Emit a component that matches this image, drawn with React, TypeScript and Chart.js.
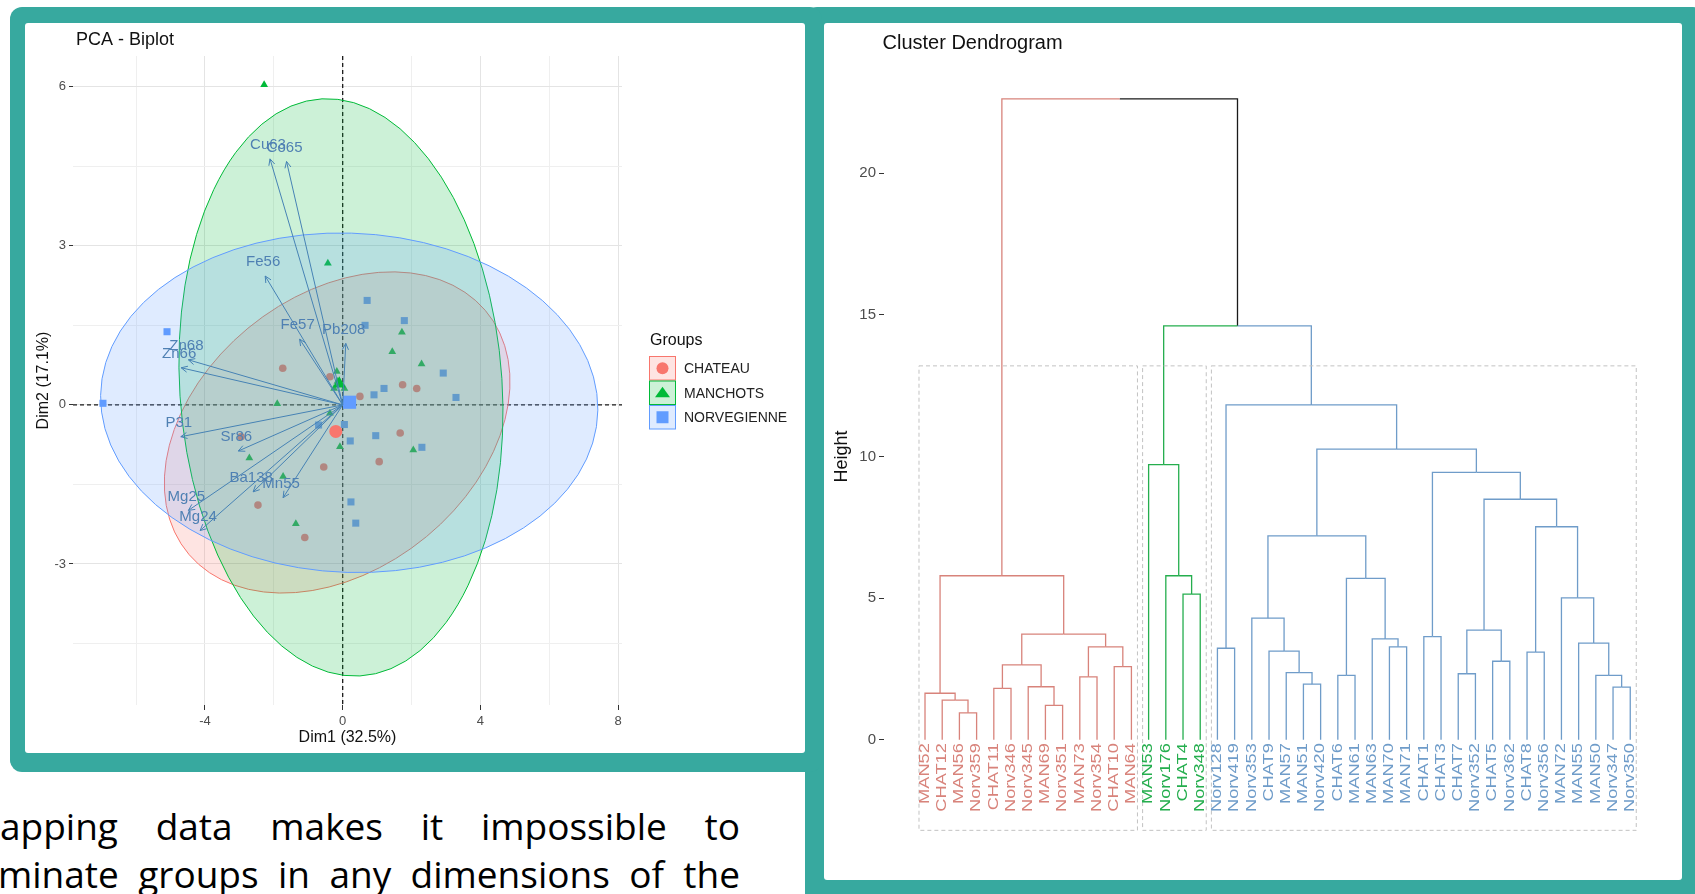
import React, { useEffect, useRef } from "react";
import { Chart, registerables } from "chart.js";

Chart.register(...registerables);

const FONT = "'Liberation Sans', Arial, Helvetica, sans-serif";
const TEAL = "#37a99f";

/* ---------------- PCA biplot data ---------------- */
const groups = ["CHATEAU", "MANCHOTS", "NORVEGIENNE"];
const groupColors = ["#F8766D", "#00BA38", "#619CFF"];
const groupShapes = ["circle", "triangle", "rect"];

const chateauX = [-1.74, -0.37, 0.5, 1.74, 2.15, 1.67, 1.06, -0.55, -2.95, -2.46, -1.1];
const chateauY = [0.69, 0.53, 0.16, 0.38, 0.31, -0.53, -1.07, -1.17, -0.6, -1.89, -2.5];
const manchotsX = [-2.28, -0.43, 1.72, 1.44, 2.29, -0.17, -0.15, -0.25, 0.05, -1.9, -0.37, -0.08, 2.05, -2.71, -1.73, -1.36];
const manchotsY = [6.04, 2.67, 1.37, 1.0, 0.77, 0.63, 0.44, 0.31, 0.31, 0.02, -0.16, -0.79, -0.85, -1.0, -1.35, -2.24];
const norvX = [0.71, 1.79, 0.65, 2.92, 1.2, 0.91, 3.29, -5.1, -6.96, -0.7, 0.05, 0.96, 0.22, 2.3, 0.24, 0.38];
const norvY = [1.97, 1.59, 1.5, 0.6, 0.31, 0.19, 0.14, 1.38, 0.03, -0.38, -0.37, -0.58, -0.68, -0.8, -1.83, -2.23];

const meanX = [-0.2, -0.1, 0.2];
const meanY = [-0.5, 0.4, 0.05];

// concentration ellipses: centre, semi-axes, rotation (degrees)
const ellCx = [-0.16, -0.05, 0.19];
const ellCy = [-0.52, 0.33, 0.04];
const ellA = [5.15, 5.5, 7.22];
const ellB = [2.8, 4.64, 3.2];
const ellAngle = [15.5, 105.3, -1.1];

const varNames = ["Cu63", "Co65", "Fe56", "Fe57", "Pb208", "Zn68", "Zn66", "P31", "Sr86", "Ba138", "Mn55", "Mg25", "Mg24"];
const varX = [-2.11, -1.63, -2.25, -1.25, 0.09, -4.48, -4.69, -4.7, -3.03, -2.6, -1.73, -4.48, -4.14];
const varY = [4.64, 4.59, 2.43, 1.24, 1.16, 0.85, 0.7, -0.6, -0.87, -1.64, -1.75, -1.99, -2.37];

const xMajor = [-4, 0, 4, 8];
const xMinor = [-6, -2, 2, 6];
const yMajor = [-3, 0, 3, 6];
const yMinor = [-4.5, -1.5, 1.5, 4.5];

/* ---------------- Dendrogram data ---------------- */
const leafLabels = [
  "MAN52", "CHAT12", "MAN56", "Norv359", "CHAT11", "Norv346", "Norv345", "MAN69", "Norv351", "MAN73", "Norv354", "CHAT10", "MAN64",
  "MAN53", "Norv176", "CHAT4", "Norv348",
  "Norv128", "Norv419", "Norv353", "CHAT9", "MAN57", "MAN51", "Norv420", "CHAT6", "MAN61", "MAN63", "MAN70", "MAN71",
  "CHAT1", "CHAT3", "CHAT7", "Norv352", "CHAT5", "Norv362", "CHAT8", "Norv356", "MAN72", "MAN55", "MAN50", "Norv347", "Norv350",
];
const leafCluster = [
  0, 0, 0, 0, 0, 0, 0, 0, 0, 0, 0, 0, 0,
  1, 1, 1, 1,
  2, 2, 2, 2, 2, 2, 2, 2, 2, 2, 2, 2, 2, 2, 2, 2, 2, 2, 2, 2, 2, 2, 2, 2, 2,
];
const clusterColors = ["#D8837B", "#25AE4E", "#6F9CC9"];
const mixedColor = "#1a1a1a";

// hclust-style merges: negative = leaf (display position), positive = earlier merge
const merges: [number, number, number][] = [
  [-3, -4, 0.95], [-2, 1, 1.4], [-1, 2, 1.64], [-5, -6, 1.81], [-8, -9, 1.21],
  [-7, 5, 1.87], [4, 6, 2.64], [-10, -11, 2.22], [-12, -13, 2.58], [8, 9, 3.28],
  [7, 10, 3.73], [3, 11, 5.79],
  [-16, -17, 5.14], [-15, 13, 5.79], [-14, 14, 9.71],
  [-18, -19, 3.23], [-23, -24, 1.96], [-22, 17, 2.37], [-21, 18, 3.13], [-20, 19, 4.29],
  [-25, -26, 2.27], [-28, -29, 3.28], [-27, 22, 3.56], [21, 23, 5.7], [20, 24, 7.2],
  [-30, -31, 3.64], [-32, -33, 2.33], [-34, -35, 2.77], [27, 28, 3.87], [-36, -37, 3.09],
  [-41, -42, 1.86], [-40, 31, 2.27], [-39, 32, 3.41], [-38, 33, 5.01], [30, 34, 7.52],
  [29, 35, 8.49], [26, 36, 9.44], [25, 37, 10.26], [16, 38, 11.82],
  [15, 39, 14.61], [12, 40, 22.63],
];
const heightTicks = [0, 5, 10, 15, 20];
const rectTop = 13.2;
const rectBottom = -3.2;

/* ---------------- helpers ---------------- */
function rgba(hex: string, a: number) {
  const n = parseInt(hex.slice(1), 16);
  return `rgba(${(n >> 16) & 255},${(n >> 8) & 255},${n & 255},${a})`;
}

function drawMarker(ctx: CanvasRenderingContext2D, shape: string, cx: number, cy: number, s: number, color: string) {
  ctx.fillStyle = color;
  ctx.beginPath();
  if (shape === "circle") {
    ctx.arc(cx, cy, s, 0, Math.PI * 2);
  } else if (shape === "triangle") {
    const h = s * 1.5;
    ctx.moveTo(cx, cy - h * 0.62);
    ctx.lineTo(cx + s * 1.15, cy + h * 0.45);
    ctx.lineTo(cx - s * 1.15, cy + h * 0.45);
    ctx.closePath();
  } else {
    ctx.rect(cx - s, cy - s, 2 * s, 2 * s);
  }
  ctx.fill();
}

/* ---------------- PCA chart ---------------- */
const pcaPlugin = {
  id: "pcaExtras",
  beforeDatasetsDraw(chart: any) {
    chart.$ellDone = false;
    const { ctx, chartArea, scales } = chart;
    const x0 = scales.x.getPixelForValue(0);
    const y0 = scales.y.getPixelForValue(0);
    ctx.save();
    ctx.strokeStyle = "#1a1a1a";
    ctx.lineWidth = 1.3;
    ctx.setLineDash([4, 3]);
    ctx.beginPath();
    ctx.moveTo(chartArea.left, y0);
    ctx.lineTo(chartArea.right, y0);
    ctx.moveTo(x0, chartArea.top);
    ctx.lineTo(x0, chartArea.bottom);
    ctx.stroke();
    ctx.restore();
  },
  beforeDatasetDraw(chart: any, args: any) {
    if (args.index < 3 || chart.$ellDone) return;
    chart.$ellDone = true;
    const { ctx, scales } = chart;
    const xs = scales.x, ys = scales.y;
    const kx = xs.getPixelForValue(1) - xs.getPixelForValue(0);
    const ky = ys.getPixelForValue(1) - ys.getPixelForValue(0);
    for (let g = 0; g < groups.length; g++) {
      const t = (ellAngle[g] * Math.PI) / 180;
      const a = ellA[g], b = ellB[g];
      ctx.save();
      ctx.beginPath();
      ctx.transform(
        kx * a * Math.cos(t), ky * a * Math.sin(t),
        -kx * b * Math.sin(t), ky * b * Math.cos(t),
        xs.getPixelForValue(ellCx[g]), ys.getPixelForValue(ellCy[g])
      );
      ctx.arc(0, 0, 1, 0, Math.PI * 2);
      ctx.restore();
      ctx.save();
      ctx.fillStyle = rgba(groupColors[g], 0.2);
      ctx.fill();
      ctx.strokeStyle = groupColors[g];
      ctx.lineWidth = 1;
      ctx.stroke();
      ctx.restore();
    }
  },
  afterDatasetsDraw(chart: any) {
    const { ctx, scales } = chart;
    const ox = scales.x.getPixelForValue(0);
    const oy = scales.y.getPixelForValue(0);
    ctx.save();
    ctx.strokeStyle = "#4682B4";
    ctx.lineWidth = 1;
    for (let i = 0; i < varNames.length; i++) {
      const tx = scales.x.getPixelForValue(varX[i]);
      const ty = scales.y.getPixelForValue(varY[i]);
      const ang = Math.atan2(ty - oy, tx - ox);
      ctx.beginPath();
      ctx.moveTo(ox, oy);
      ctx.lineTo(tx, ty);
      ctx.moveTo(tx - 7 * Math.cos(ang - 0.45), ty - 7 * Math.sin(ang - 0.45));
      ctx.lineTo(tx, ty);
      ctx.lineTo(tx - 7 * Math.cos(ang + 0.45), ty - 7 * Math.sin(ang + 0.45));
      ctx.stroke();
    }
    ctx.fillStyle = "#4f80b3";
    ctx.font = `15px ${FONT}`;
    ctx.textAlign = "center";
    ctx.textBaseline = "middle";
    for (let i = 0; i < varNames.length; i++) {
      const tx = scales.x.getPixelForValue(varX[i]);
      const ty = scales.y.getPixelForValue(varY[i]);
      ctx.fillText(varNames[i], tx - 2, ty - 14);
    }
    ctx.restore();
  },
  afterDraw(chart: any) {
    const { ctx } = chart;
    ctx.save();
    ctx.fillStyle = "#111";
    ctx.textBaseline = "middle";
    ctx.textAlign = "left";
    ctx.font = `18px ${FONT}`;
    ctx.fillText("PCA - Biplot", 51, 17);
    ctx.font = `16px ${FONT}`;
    ctx.fillText("Groups", 625, 318);
    const rowTop = [333.5, 358, 382.5];
    for (let g = 0; g < groups.length; g++) {
      const top = rowTop[g];
      ctx.fillStyle = rgba(groupColors[g], 0.2);
      ctx.fillRect(624.5, top, 26, 23.5);
      ctx.strokeStyle = groupColors[g];
      ctx.lineWidth = 1;
      ctx.strokeRect(624.5, top, 26, 23.5);
      const cy = top + 11.75;
      const size = g === 0 ? 6 : g === 1 ? 6.5 : 6;
      drawMarker(ctx, groupShapes[g], 637.5, cy, size, groupColors[g]);
      ctx.fillStyle = "#222";
      ctx.font = `14px ${FONT}`;
      ctx.fillText(groups[g], 659, cy + 1);
    }
    ctx.restore();
  },
};

function PcaChart() {
  const ref = useRef<HTMLCanvasElement>(null);
  useEffect(() => {
    const xsAll = [chateauX, manchotsX, norvX];
    const ysAll = [chateauY, manchotsY, norvY];
    const indivRadius = [3.8, 4.5, 5];
    const meanRadius = [6.5, 7.5, 9.3];
    const datasets: any[] = [];
    groups.forEach((g, gi) => {
      datasets.push({
        label: g,
        data: xsAll[gi].map((v, i) => ({ x: v, y: ysAll[gi][i] })),
        pointStyle: groupShapes[gi],
        pointRadius: indivRadius[gi],
        pointBackgroundColor: groupColors[gi],
        pointBorderWidth: 0,
        pointBorderColor: "rgba(0,0,0,0)",
        order: 10,
      });
    });
    groups.forEach((g, gi) => {
      datasets.push({
        label: g + " mean",
        data: [{ x: meanX[gi], y: meanY[gi] }],
        pointStyle: groupShapes[gi],
        pointRadius: meanRadius[gi],
        pointBackgroundColor: groupColors[gi],
        pointBorderWidth: 0,
        pointBorderColor: "rgba(0,0,0,0)",
        order: 1,
      });
    });
    const gridColor = (isMajor: boolean) => (isMajor ? "#e4e4e4" : "#efefef");
    const chart = new Chart(ref.current!, {
      type: "scatter",
      data: { datasets },
      plugins: [pcaPlugin],
      options: {
        animation: false,
        responsive: false,
        events: [],
        layout: { padding: { left: 0, right: 183, top: 33, bottom: 0 } },
        plugins: { legend: { display: false }, tooltip: { enabled: false }, title: { display: false } },
        scales: {
          x: {
            type: "linear",
            min: -7.83,
            max: 8.11,
            afterBuildTicks: (s: any) => {
              s.ticks = [...xMinor, ...xMajor].sort((a, b) => a - b).map((v) => ({ value: v }));
            },
            afterFit: (s: any) => {
              s.height = 48;
            },
            border: { display: false },
            grid: {
              color: (c: any) => gridColor(xMajor.includes(c.tick?.value)),
              lineWidth: 1,
              drawTicks: true,
              tickLength: 5,
              tickColor: (c: any) => (xMajor.includes(c.tick?.value) ? "#333" : "rgba(0,0,0,0)"),
            },
            ticks: {
              autoSkip: false,
              maxRotation: 0,
              padding: 4,
              color: "#4d4d4d",
              font: { family: FONT, size: 13 },
              callback: (v: any) => (xMajor.includes(v) ? String(v) : ""),
            },
            title: {
              display: true,
              text: "Dim1 (32.5%)",
              color: "#111",
              font: { family: FONT, size: 16 },
              padding: { top: 0, bottom: 5.4 },
            },
          },
          y: {
            type: "linear",
            min: -5.66,
            max: 6.58,
            afterBuildTicks: (s: any) => {
              s.ticks = [...yMinor, ...yMajor].sort((a, b) => a - b).map((v) => ({ value: v }));
            },
            afterFit: (s: any) => {
              s.width = 48;
            },
            border: { display: false },
            grid: {
              color: (c: any) => gridColor(yMajor.includes(c.tick?.value)),
              lineWidth: 1,
              drawTicks: true,
              tickLength: 4,
              tickColor: (c: any) => (yMajor.includes(c.tick?.value) ? "#333" : "rgba(0,0,0,0)"),
            },
            ticks: {
              autoSkip: false,
              padding: 3,
              color: "#4d4d4d",
              font: { family: FONT, size: 13 },
              callback: (v: any) => (yMajor.includes(v) ? String(v) : ""),
            },
            title: {
              display: true,
              text: "Dim2 (17.1%)",
              color: "#111",
              font: { family: FONT, size: 16 },
              padding: { top: 9.4, bottom: 0 },
            },
          },
        },
      } as any,
    });
    return () => chart.destroy();
  }, []);
  return (
    <canvas
      ref={ref}
      width={780}
      height={730}
      style={{ position: "absolute", left: 25, top: 23, width: 780, height: 730, display: "block" }}
    />
  );
}

/* ---------------- Dendrogram chart ---------------- */
function buildDendro() {
  const nodeX: number[] = [];
  const nodeCl: number[] = [];
  const info = (r: number) => {
    if (r < 0) return { x: -r, h: 0, cl: leafCluster[-r - 1] };
    return { x: nodeX[r - 1], h: merges[r - 1][2], cl: nodeCl[r - 1] };
  };
  const datasets: any[] = [];
  merges.forEach(([a, b, h], i) => {
    const A = info(a);
    const B = info(b);
    nodeX[i] = (A.x + B.x) / 2;
    nodeCl[i] = A.cl === B.cl ? A.cl : -1;
    [A, B].forEach((c) => {
      datasets.push({
        data: [
          { x: nodeX[i], y: h },
          { x: c.x, y: h },
          { x: c.x, y: c.h },
        ],
        showLine: true,
        pointRadius: 0,
        borderWidth: 1.3,
        borderColor: c.cl >= 0 ? clusterColors[c.cl] : mixedColor,
        fill: false,
        tension: 0,
      });
    });
  });
  return datasets;
}

const dendroPlugin = {
  id: "dendroExtras",
  afterDatasetsDraw(chart: any) {
    const { ctx, scales } = chart;
    const xs = scales.x, ys = scales.y;
    ctx.save();
    // cluster rectangles
    ctx.setLineDash([4, 3]);
    ctx.strokeStyle = "#c2c2c2";
    ctx.lineWidth = 1;
    for (let c = 0; c < clusterColors.length; c++) {
      const first = leafCluster.indexOf(c) + 1;
      const last = leafCluster.lastIndexOf(c) + 1;
      const x1 = xs.getPixelForValue(first - 0.35);
      const x2 = xs.getPixelForValue(last + 0.35);
      const y1 = ys.getPixelForValue(rectTop);
      const y2 = ys.getPixelForValue(rectBottom);
      ctx.strokeRect(x1, y1, x2 - x1, y2 - y1);
    }
    ctx.setLineDash([]);
    // leaf labels
    const y0 = ys.getPixelForValue(0) + 3.5;
    ctx.font = `14px ${FONT}`;
    ctx.textAlign = "right";
    ctx.textBaseline = "middle";
    leafLabels.forEach((lab, i) => {
      const px = xs.getPixelForValue(i + 1);
      ctx.save();
      ctx.translate(px, y0);
      ctx.rotate(-Math.PI / 2);
      ctx.scale(1.3, 1);
      ctx.fillStyle = clusterColors[leafCluster[i]];
      ctx.fillText(lab, 0, 0);
      ctx.restore();
    });
    ctx.restore();
  },
  afterDraw(chart: any) {
    const { ctx } = chart;
    ctx.save();
    ctx.fillStyle = "#111";
    ctx.font = `20px ${FONT}`;
    ctx.textAlign = "left";
    ctx.textBaseline = "middle";
    ctx.fillText("Cluster Dendrogram", 58.5, 20);
    ctx.restore();
  },
};

function DendroChart() {
  const ref = useRef<HTMLCanvasElement>(null);
  useEffect(() => {
    const chart = new Chart(ref.current!, {
      type: "scatter",
      data: { datasets: buildDendro() },
      plugins: [dendroPlugin],
      options: {
        animation: false,
        responsive: false,
        events: [],
        layout: { padding: { left: 0, right: 22, top: 37, bottom: 27 } },
        plugins: { legend: { display: false }, tooltip: { enabled: false }, title: { display: false } },
        scales: {
          x: { type: "linear", min: -1.384, max: 43.73, display: false },
          y: {
            type: "linear",
            min: -4,
            max: 24,
            afterBuildTicks: (s: any) => {
              s.ticks = heightTicks.map((v) => ({ value: v }));
            },
            afterFit: (s: any) => {
              s.width = 60;
            },
            border: { display: false },
            grid: { drawOnChartArea: false, drawTicks: true, tickLength: 5, tickColor: "#333" },
            ticks: { padding: 3, color: "#4d4d4d", font: { family: FONT, size: 15 }, autoSkip: false },
            title: {
              display: true,
              text: "Height",
              color: "#111",
              font: { family: FONT, size: 18 },
              padding: { top: 7.2, bottom: 0 },
            },
          },
        },
      } as any,
    });
    return () => chart.destroy();
  }, []);
  return (
    <canvas
      ref={ref}
      width={858}
      height={857}
      style={{ position: "absolute", left: 824, top: 23, width: 858, height: 857, display: "block" }}
    />
  );
}

/* ---------------- page ---------------- */
const bodyLine1 = "apping data makes it impossible to";
const bodyLine2 = "minate groups in any dimensions of the";

export default function App() {
  const lineStyle: React.CSSProperties = {
    position: "absolute",
    fontFamily: "'Open Sans', 'Noto Sans', sans-serif",
    fontSize: 37,
    lineHeight: "37px",
    color: "#000",
    textAlign: "justify",
    textAlignLast: "justify" as any,
    whiteSpace: "normal",
  };
  return (
    <div
      style={{
        position: "absolute",
        left: 0,
        top: 0,
        width: 1695,
        height: 894,
        overflow: "hidden",
        background: "#fff",
      }}
    >
      <div style={{ position: "absolute", left: 805, top: 7, width: 900, height: 900, background: TEAL, borderRadius: 12 }} />
      <div style={{ position: "absolute", left: 10, top: 7, width: 812, height: 765, background: TEAL, borderRadius: 12 }} />
      <div style={{ position: "absolute", left: 25, top: 23, width: 780, height: 730, background: "#fff", borderRadius: 3 }} />
      <div style={{ position: "absolute", left: 824, top: 23, width: 858, height: 857, background: "#fff", borderRadius: 3 }} />
      <PcaChart />
      <DendroChart />
      <div style={{ ...lineStyle, left: 0, top: 807, width: 740 }}>{bodyLine1}</div>
      <div style={{ ...lineStyle, left: -2, top: 855, width: 742 }}>{bodyLine2}</div>
    </div>
  );
}
